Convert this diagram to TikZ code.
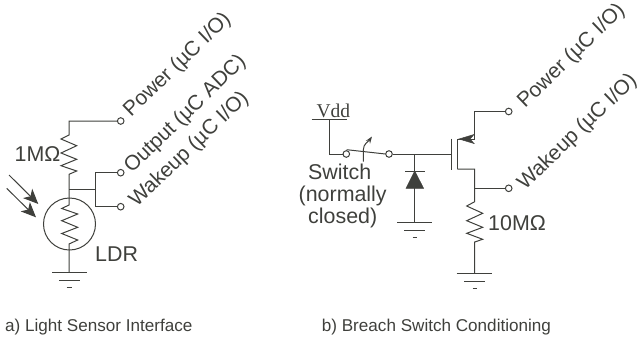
\documentclass[tikz,border=0pt]{standalone}
\usepackage{fontspec}
\setmainfont{Liberation Sans}
\newfontfamily\vddfont{Liberation Serif}
\usetikzlibrary{arrows.meta}
\definecolor{ink}{HTML}{3F403C}
\tikzset{
  term/.style={circle,draw=ink,fill=white,line width=1pt,inner sep=0pt,minimum size=6.6pt},
  lbl/.style={inner sep=0pt,text=ink,font=\fontsize{21.4}{21.6}\selectfont},
  plbl/.style={inner sep=0pt,text=ink,font=\fontsize{20.9}{21}\selectfont,anchor=base west,rotate=44},
  capt/.style={inner sep=0pt,text=ink,anchor=base west,font=\fontsize{17.1}{19}\selectfont},
  wire/.style={draw=ink,line width=1pt},
  ray/.style={draw=ink,line width=1pt,-{Stealth[length=15pt,width=13pt,inset=4pt]}}
}
\begin{document}
\begin{tikzpicture}[x=1pt,y=-1pt]
\useasboundingbox (0,0) rectangle (637,338);

\coordinate (A) at (69,121);
\coordinate (B) at (69,135);
\coordinate (B1) at (61,139);
\coordinate (B2) at (76.7,145.7);
\coordinate (B3) at (61,153);
\coordinate (B4) at (76.7,159.3);
\coordinate (B5) at (61,165.7);
\coordinate (B6) at (76.7,171);
\coordinate (C) at (69,174.3);
\coordinate (D) at (69,189.3);
\coordinate (E) at (69,205);
\coordinate (E1) at (61.7,208.5);
\coordinate (E2) at (77.7,214);
\coordinate (E3) at (61.7,220.7);
\coordinate (E4) at (77.7,227.3);
\coordinate (E5) at (61.7,233.5);
\coordinate (E6) at (77.7,240);
\coordinate (F) at (69,244);
\coordinate (G) at (69,272.7);
\coordinate (H) at (95,189.3);
\coordinate (J) at (95,172.7);
\coordinate (K) at (95,206.7);
\coordinate (G1) at (52,272.7);
\coordinate (G2) at (87,272.7);
\coordinate (G3) at (59.3,280.3);
\coordinate (G4) at (80,280.3);
\coordinate (G5) at (66.7,287.3);
\coordinate (G6) at (71.7,287.3);
\coordinate (R1) at (9,175);
\coordinate (R2) at (38.3,204);
\coordinate (R3) at (6.7,188.3);
\coordinate (R4) at (36,217.3);

\coordinate (L) at (329,119.3);
\coordinate (L1) at (311.7,119.3);
\coordinate (L2) at (346.7,119.3);
\coordinate (M) at (329,154);
\coordinate (N) at (346.7,149.7);
\coordinate (N1) at (385.5,154);
\coordinate (N2) at (363.3,161.7);
\coordinate (N3) at (363.3,150);
\coordinate (N4) at (372,136.5);
\coordinate (O) at (414.7,154);
\coordinate (P) at (451,154);
\coordinate (P1) at (451,138.5);
\coordinate (P2) at (451,169.5);
\coordinate (Q) at (457.3,139);
\coordinate (Q1) at (457.3,169);
\coordinate (S) at (474.7,139);
\coordinate (S1) at (474.7,111.5);
\coordinate (S2) at (459,139);
\coordinate (S3) at (474,134.5);
\coordinate (S4) at (470,139);
\coordinate (S5) at (474,143.5);
\coordinate (T) at (474.7,169);
\coordinate (T1) at (474.7,188.3);
\coordinate (T2) at (474.7,201.7);
\coordinate (U1) at (466.7,206);
\coordinate (U2) at (482.7,213.3);
\coordinate (U3) at (466.7,220.7);
\coordinate (U4) at (482.7,227.3);
\coordinate (U5) at (466.7,233.3);
\coordinate (U6) at (482.7,239.3);
\coordinate (V) at (474.7,242);
\coordinate (W) at (474.7,273.7);
\coordinate (W1) at (456.7,273.7);
\coordinate (W2) at (491.7,273.7);
\coordinate (W3) at (464.3,281.3);
\coordinate (W4) at (485,281.3);
\coordinate (W5) at (472.7,288.7);
\coordinate (W6) at (476.7,288.7);
\coordinate (X) at (414.7,171);
\coordinate (X1) at (405,171);
\coordinate (X2) at (425,171);
\coordinate (X3) at (406,188.3);
\coordinate (X4) at (423.6,188.3);
\coordinate (Y) at (414.7,222.3);
\coordinate (Y1) at (397,222.3);
\coordinate (Y2) at (432.3,222.3);
\coordinate (Y3) at (404.3,230);
\coordinate (Y4) at (425,230);
\coordinate (Y5) at (412.7,237.7);
\coordinate (Y6) at (417.3,237.7);

\node[term] (PA) at (120.7,121) {};
\node[term] (OA) at (120.7,172.7) {};
\node[term] (WA) at (120.7,206.7) {};
\node[term] (SA) at (346.3,154) {};
\node[term] (SB) at (389,154) {};
\node[term] (PB) at (508.7,111.5) {};
\node[term] (WB) at (508.7,188.3) {};
\node[circle,draw=ink,line width=1pt,inner sep=0pt,minimum size=52pt] (LDR) at (69.5,224) {};

\draw[wire] (PA) -- (A) -- (B) -- (B1) -- (B2) -- (B3) -- (B4) -- (B5) -- (B6) -- (C) -- (D) -- (E) -- (E1) -- (E2) -- (E3) -- (E4) -- (E5) -- (E6) -- (F) -- (G);
\draw[wire] (D) -- (H);
\draw[wire] (OA) -- (J) -- (K) -- (WA);
\draw[wire] (G1) -- (G2);
\draw[wire] (G3) -- (G4);
\draw[wire] (G5) -- (G6);
\draw[ray] (R1) -- (R2);
\draw[ray] (R3) -- (R4);

\draw[wire] (L1) -- (L2);
\draw[wire] (L) -- (M) -- (SA);
\draw[wire] (N) -- (N1);
\draw[draw=ink,line width=1pt,-{Stealth[length=7pt,width=5pt]}] (N2) -- (N3) to[out=90,in=-125] (N4);
\draw[wire] (SB) -- (P);
\draw[wire] (P1) -- (P2);
\draw[wire] (Q1) -- (Q) -- (S) -- (S1) -- (PB);
\draw[fill=ink,draw=ink,line width=.5pt] (S2) -- (S3) -- (S4) -- (S5) -- cycle;
\draw[wire] (Q1) -- (T) -- (T1) -- (T2) -- (U1) -- (U2) -- (U3) -- (U4) -- (U5) -- (U6) -- (V) -- (W);
\draw[wire] (T1) -- (WB);
\draw[wire] (W1) -- (W2);
\draw[wire] (W3) -- (W4);
\draw[wire] (W5) -- (W6);
\draw[wire] (O) -- (Y);
\draw[wire] (X1) -- (X2);
\draw[fill=ink,draw=ink,line width=.5pt] (X) -- (X3) -- (X4) -- cycle;
\draw[wire] (Y1) -- (Y2);
\draw[wire] (Y3) -- (Y4);
\draw[wire] (Y5) -- (Y6);

\node[lbl] (RA) at (37.5,154) {1MΩ};
\node[lbl,anchor=base west] (LD) at (95,261) {LDR};
\node[lbl,anchor=west] (RB) at (488,223.3) {10MΩ};
\node[inner sep=0pt,text=ink,font=\vddfont\fontsize{19.5}{20}\selectfont] (VD) at (333.3,110.7) {Vdd};
\node[lbl,align=center] (SW) at (342.7,196) {Switch\kern6pt\\(normally\\closed)};

\node[plbl] (LA) at (131,117.5) {Power (µC I/O)};
\node[plbl] (LB) at (131.7,174) {Output (µC ADC)};
\node[plbl] (LC) at (136.7,208) {Wakeup (µC I/O)};
\node[plbl] (LE) at (525,109) {Power (µC I/O)};
\node[plbl] (LF) at (525,190.7) {Wakeup (µC I/O)};

\node[capt] (CA) at (5,331) {a) Light Sensor Interface};
\node[capt] (CB) at (321.7,331) {b) Breach Switch Conditioning};
\end{tikzpicture}
\end{document}
